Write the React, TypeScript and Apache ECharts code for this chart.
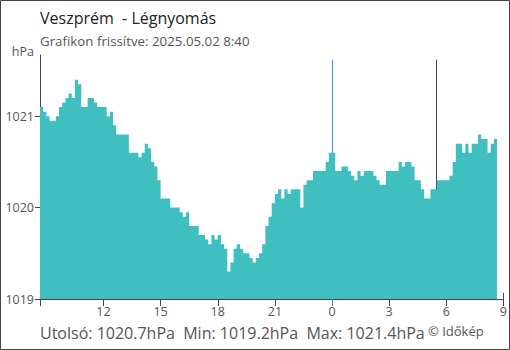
import React, { useEffect, useRef } from "react";
import * as echarts from "echarts";

const TITLE = "Veszprém  - Légnyomás";
const SUBTITLE = "Grafikon frissítve: 2025.05.02 8:40";
const UNIT = "hPa";
const COPYRIGHT = "© Időkép";
const LAST_VALUE = 1020.7;
const MIN_VALUE = 1019.2;
const MAX_VALUE = 1021.4;

// first reading 8:40 (previous day), one reading every 10 minutes
const START_HOUR = 8 + 40 / 60;
const STEP_MINUTES = 10;
const PRESSURE = [
  1021.1, 1021.05, 1021.0, 1020.95, 1020.95, 1021.0, 1021.1, 1021.15, 1021.2, 1021.25,
  1021.2, 1021.4, 1021.35, 1021.1, 1021.1, 1021.2, 1021.2, 1021.15, 1021.1, 1021.1,
  1021.1, 1021.0, 1021.05, 1020.9, 1020.8, 1020.8, 1020.8, 1020.8, 1020.6, 1020.6,
  1020.6, 1020.55, 1020.6, 1020.7, 1020.65, 1020.5, 1020.45, 1020.3, 1020.1, 1020.1,
  1020.1, 1020.0, 1020.0, 1020.0, 1019.95, 1019.9, 1019.95, 1019.8, 1019.8, 1019.8,
  1019.7, 1019.7, 1019.65, 1019.6, 1019.7, 1019.65, 1019.7, 1019.6, 1019.55, 1019.3,
  1019.4, 1019.55, 1019.6, 1019.55, 1019.5, 1019.5, 1019.45, 1019.4, 1019.45, 1019.5,
  1019.6, 1019.8, 1019.9, 1020.05, 1020.15, 1020.2, 1020.1, 1020.2, 1020.15, 1020.2,
  1020.2, 1020.2, 1020.0, 1020.25, 1020.3, 1020.3, 1020.4, 1020.4, 1020.4, 1020.4,
  1020.5, 1020.6, 1020.6, 1020.4, 1020.4, 1020.45, 1020.45, 1020.4, 1020.35, 1020.3,
  1020.4, 1020.35, 1020.4, 1020.4, 1020.4, 1020.35, 1020.3, 1020.25, 1020.25, 1020.4,
  1020.4, 1020.4, 1020.4, 1020.5, 1020.45, 1020.5, 1020.5, 1020.45, 1020.3, 1020.3,
  1020.2, 1020.1, 1020.1, 1020.2, 1020.2, 1020.3, 1020.3, 1020.3, 1020.3, 1020.35,
  1020.5, 1020.7, 1020.7, 1020.6, 1020.7, 1020.6, 1020.7, 1020.7, 1020.8, 1020.75,
  1020.75, 1020.6, 1020.7, 1020.75,
];

const X_MAX = 33; // 9:00 next day
const X_TICKS = [START_HOUR, 12, 15, 18, 21, 27, 30, 33];
const X_LABELS = [12, 15, 18, 21, 24, 27, 30, 33];
const Y_MIN = 1019;
const Y_MAX = 1021.67;
const Y_TICKS = [1019, 1020, 1021];
const MIDNIGHT = 24;
const SUNRISE = 29 + 27 / 60;
const MARK_TOP = 1021.62;

const FONT = "'Open Sans', 'Noto Sans', sans-serif";

export default function App() {
  const ref = useRef<HTMLDivElement>(null);

  useEffect(() => {
    if (!ref.current) return;
    const chart = echarts.init(ref.current, undefined, { renderer: "svg" });

    const points: [number, number][] = PRESSURE.map((v, i) => [
      START_HOUR + (i * STEP_MINUTES) / 60,
      v,
    ]);
    // closing point so the last 10-minute step is drawn
    points.push([
      START_HOUR + (PRESSURE.length * STEP_MINUTES) / 60,
      PRESSURE[PRESSURE.length - 1],
    ]);

    const statText =
      `Utolsó: ${LAST_VALUE.toFixed(1)}${UNIT}  Min: ${MIN_VALUE.toFixed(1)}${UNIT}  Max: ${MAX_VALUE.toFixed(1)}${UNIT}`;

    const baseX = {
      type: "value" as const,
      min: START_HOUR,
      max: X_MAX,
      splitLine: { show: false },
    };

    chart.setOption({
      animation: false,
      backgroundColor: "#fff",
      textStyle: { fontFamily: FONT },
      grid: { left: 40, right: 4, top: 55, bottom: 51, containLabel: false },
      xAxis: [
        {
          ...baseX,
          position: "bottom",
          axisLine: { show: true, lineStyle: { color: "#444", width: 1 } },
          axisTick: {
            show: true,
            length: 7,
            customValues: X_TICKS,
            lineStyle: { color: "#444" },
          },
          axisLabel: {
            show: true,
            customValues: X_LABELS,
            formatter: (v: number) => String(Math.round(v) % 24),
            color: "#555",
            fontSize: 12.5,
            fontFamily: FONT,
            margin: 6,
          },
        },
        {
          ...baseX,
          position: "bottom",
          axisLine: { show: false },
          axisTick: {
            show: true,
            length: 7,
            customValues: [MIDNIGHT],
            lineStyle: { color: "#3b8fd3" },
          },
          axisLabel: { show: false },
        },
        {
          ...baseX,
          position: "bottom",
          axisLine: { show: false },
          axisTick: {
            show: true,
            inside: true,
            length: 6,
            customValues: [X_MAX],
            lineStyle: { color: "#444" },
          },
          axisLabel: { show: false },
        },
      ],
      yAxis: {
        type: "value",
        min: Y_MIN,
        max: Y_MAX,
        splitLine: { show: false },
        axisLine: { show: true, lineStyle: { color: "#444", width: 1 } },
        axisTick: {
          show: true,
          length: 5,
          customValues: Y_TICKS,
          lineStyle: { color: "#444" },
        },
        axisLabel: {
          customValues: Y_TICKS,
          formatter: (v: number) => String(Math.round(v)),
          color: "#555",
          fontSize: 12.5,
          fontFamily: FONT,
          margin: 6,
        },
        name: UNIT,
        nameLocation: "end",
        nameGap: 4,
        nameTextStyle: {
          color: "#555",
          fontSize: 12.5,
          fontFamily: FONT,
          align: "right",
          verticalAlign: "middle",
          padding: [0, 6, 0, 0],
        },
      },
      series: [
        {
          type: "line",
          xAxisIndex: 0,
          z: 3,
          step: "end",
          symbol: "none",
          data: points,
          lineStyle: { width: 0, opacity: 0 },
          areaStyle: { color: "#40bfc1", opacity: 1, origin: "start" },
          markLine: {
            z: 1,
            silent: true,
            symbol: ["none", "none"],
            label: { show: false },
            animation: false,
            data: [
              [
                { coord: [MIDNIGHT, MARK_TOP], lineStyle: { color: "#3b8fd3", width: 1, type: "solid" } },
                { coord: [MIDNIGHT, Y_MIN] },
              ],
              [
                { coord: [SUNRISE, MARK_TOP], lineStyle: { color: "#444", width: 1, type: "solid" } },
                { coord: [SUNRISE, Y_MIN] },
              ],
            ],
          },
        },
      ],
      graphic: [
        {
          type: "rect",
          silent: true,
          shape: { x: 0.5, y: 0.5, width: 509, height: 349 },
          style: { fill: "none", stroke: "#444", lineWidth: 1 },
        },
        {
          type: "text",
          x: 40,
          y: 18,
          style: {
            text: TITLE,
            font: `16px ${FONT}`,
            fill: "#222",
            textVerticalAlign: "middle",
          },
        },
        {
          type: "text",
          x: 40,
          y: 41,
          style: {
            text: SUBTITLE,
            font: `13.3px ${FONT}`,
            fill: "#555",
            textVerticalAlign: "middle",
          },
        },
        {
          type: "text",
          x: 40,
          y: 333,
          style: {
            text: statText,
            font: `16px ${FONT}`,
            fill: "#555",
            textVerticalAlign: "middle",
          },
        },
        {
          type: "text",
          x: 428,
          y: 331,
          style: {
            text: COPYRIGHT,
            font: `13px ${FONT}`,
            fill: "#555",
            textVerticalAlign: "middle",
          },
        },
      ],
    });

    return () => chart.dispose();
  }, []);

  return (
    <div
      ref={ref}
      style={{ position: "fixed", left: 0, top: 0, width: 510, height: 350 }}
    />
  );
}
